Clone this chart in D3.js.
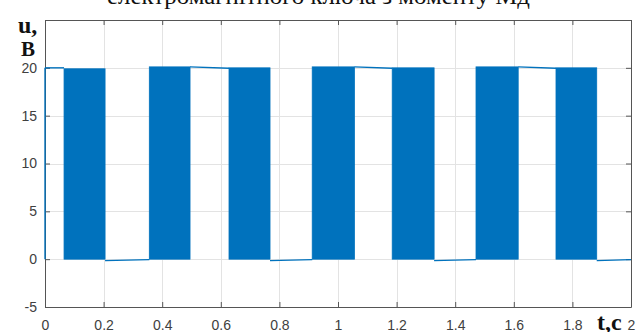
<!DOCTYPE html>
<html><head><meta charset="utf-8">
<script src="https://cdn.jsdelivr.net/npm/d3@7"></script>
<style>html,body{margin:0;padding:0;background:#fff;}svg{display:block;}</style>
</head><body>
<script>
// ---- data ----
const xTicks = [0, 0.2, 0.4, 0.6, 0.8, 1, 1.2, 1.4, 1.6, 1.8, 2];
const xTickLabels = ["0", "0.2", "0.4", "0.6", "0.8", "1", "1.2", "1.4", "1.6", "1.8", "2"];
const yTicks = [-5, 0, 5, 10, 15, 20];
const yTickLabels = ["-5", "0", "5", "10", "15", "20"];
// PWM switching bands (signal toggles rapidly between low and top)
const bandStart = [0.065, 0.356, 0.628, 0.912, 1.185, 1.471, 1.744];
const bandEnd   = [0.205, 0.495, 0.768, 1.056, 1.328, 1.615, 1.883];
const bandLow   = [0, 0, 0, 0, 0, 0, 0];
const bandTop   = [19.9, 20.1, 20.0, 20.1, 20.0, 20.1, 20.0];
// flat segments between bands
const flatStart = [0, 0.205, 0.495, 0.768, 1.056, 1.328, 1.615, 1.883];
const flatEnd   = [0.065, 0.356, 0.628, 0.912, 1.185, 1.471, 1.744, 2.0];
const flatFrom  = [20.0, -0.15, 20.1, -0.15, 20.1, -0.15, 20.1, -0.15];
const flatTo    = [20.0, -0.05, 19.95, -0.05, 19.95, -0.05, 19.95, -0.05];
const initialValue = 0;
const titleText = "електромагнітного ключа з моменту Мд";

// ---- chart ----
const W = 641, H = 332;
const m = {left: 45, right: 10, top: 20, bottom: 25};
const svg = d3.select("body").append("svg").attr("width", W).attr("height", H);
const x = d3.scaleLinear().domain([0, 2]).range([m.left, W - m.right]);
const y = d3.scaleLinear().domain([-5, 25]).range([H - m.bottom, m.top]);
const blue = "#0072BD";
const axisCol = "#555";

// grid
const g = svg.append("g");
g.selectAll(".vg").data(xTicks.slice(1, -1)).enter().append("line")
  .attr("x1", d => Math.round(x(d)) + 0.5).attr("x2", d => Math.round(x(d)) + 0.5)
  .attr("y1", y(25)).attr("y2", y(-5)).attr("stroke", "#e3e3e3").attr("stroke-width", 1);
g.selectAll(".hg").data(yTicks.slice(1)).enter().append("line")
  .attr("y1", d => Math.round(y(d)) + 0.5).attr("y2", d => Math.round(y(d)) + 0.5)
  .attr("x1", x(0)).attr("x2", x(2)).attr("stroke", "#e3e3e3").attr("stroke-width", 1);

// axes (box with inward ticks)
const axB = d3.axisBottom(x).tickValues(xTicks).tickFormat((d, i) => xTickLabels[i]).tickSizeInner(-5).tickSizeOuter(0).tickPadding(13);
const axL = d3.axisLeft(y).tickValues(yTicks).tickFormat((d, i) => yTickLabels[i]).tickSizeInner(-5).tickSizeOuter(0).tickPadding(8);
const axT = d3.axisTop(x).tickValues(xTicks).tickFormat("").tickSizeInner(-5).tickSizeOuter(0);
const axR = d3.axisRight(y).tickValues(yTicks.concat([25])).tickFormat("").tickSizeInner(-5).tickSizeOuter(0);

function styleAxis(sel) {
  sel.select(".domain").attr("stroke", axisCol);
  sel.selectAll(".tick line").attr("stroke", axisCol);
  sel.selectAll("text").attr("fill", "#404040").attr("font-family", "Liberation Sans, Arial, sans-serif").attr("font-size", 14);
}
svg.append("g").attr("transform", `translate(0,${y(-5)})`).call(axB).call(styleAxis);
svg.append("g").attr("transform", `translate(${x(0)},0)`).call(axL).call(styleAxis);
svg.append("g").attr("transform", `translate(0,${y(25)})`).call(axT).call(styleAxis);
svg.append("g").attr("transform", `translate(${x(2)},0)`).call(axR).call(styleAxis);

// data: bands
const bands = bandStart.map((s, i) => ({s, e: bandEnd[i], lo: bandLow[i], hi: bandTop[i]}));
svg.append("g").selectAll("rect").data(bands).enter().append("rect")
  .attr("x", d => x(d.s)).attr("width", d => x(d.e) - x(d.s))
  .attr("y", d => y(d.hi)).attr("height", d => y(d.lo) - y(d.hi))
  .attr("fill", blue).attr("stroke", blue).attr("stroke-width", 0.8);

// data: flat segments + initial step
const line = d3.line().x(d => x(d[0])).y(d => y(d[1]));
svg.append("path").attr("d", line([[0, initialValue], [0, flatFrom[0]]]))
  .attr("fill", "none").attr("stroke", blue).attr("stroke-width", 1.4);
flatStart.forEach((s, i) => {
  svg.append("path").attr("d", line([[s, flatFrom[i]], [flatEnd[i], flatTo[i]]]))
    .attr("fill", "none").attr("stroke", blue).attr("stroke-width", 1.4);
});

// labels
const serif = "Liberation Serif, Times New Roman, serif";
svg.append("text").attr("x", 18).attr("y", 33).text("u,")
  .attr("font-family", serif).attr("font-weight", "bold").attr("font-size", 24).attr("fill", "#111");
svg.append("text").attr("x", 21).attr("y", 56).text("B")
  .attr("font-family", serif).attr("font-weight", "bold").attr("font-size", 21).attr("fill", "#111");
svg.append("rect").attr("x", 594).attr("y", 312).attr("width", 33).attr("height", 20).attr("fill", "#fff");
svg.append("text").attr("x", 597).attr("y", 330).text("t,c")
  .attr("font-family", serif).attr("font-weight", "bold").attr("font-size", 24).attr("fill", "#111");
svg.append("text").attr("x", 107).attr("y", 4).text(titleText)
  .attr("font-family", serif).attr("font-size", 24).attr("fill", "#111")
  .attr("textLength", 423).attr("lengthAdjust", "spacingAndGlyphs");
</script>
</body></html>
